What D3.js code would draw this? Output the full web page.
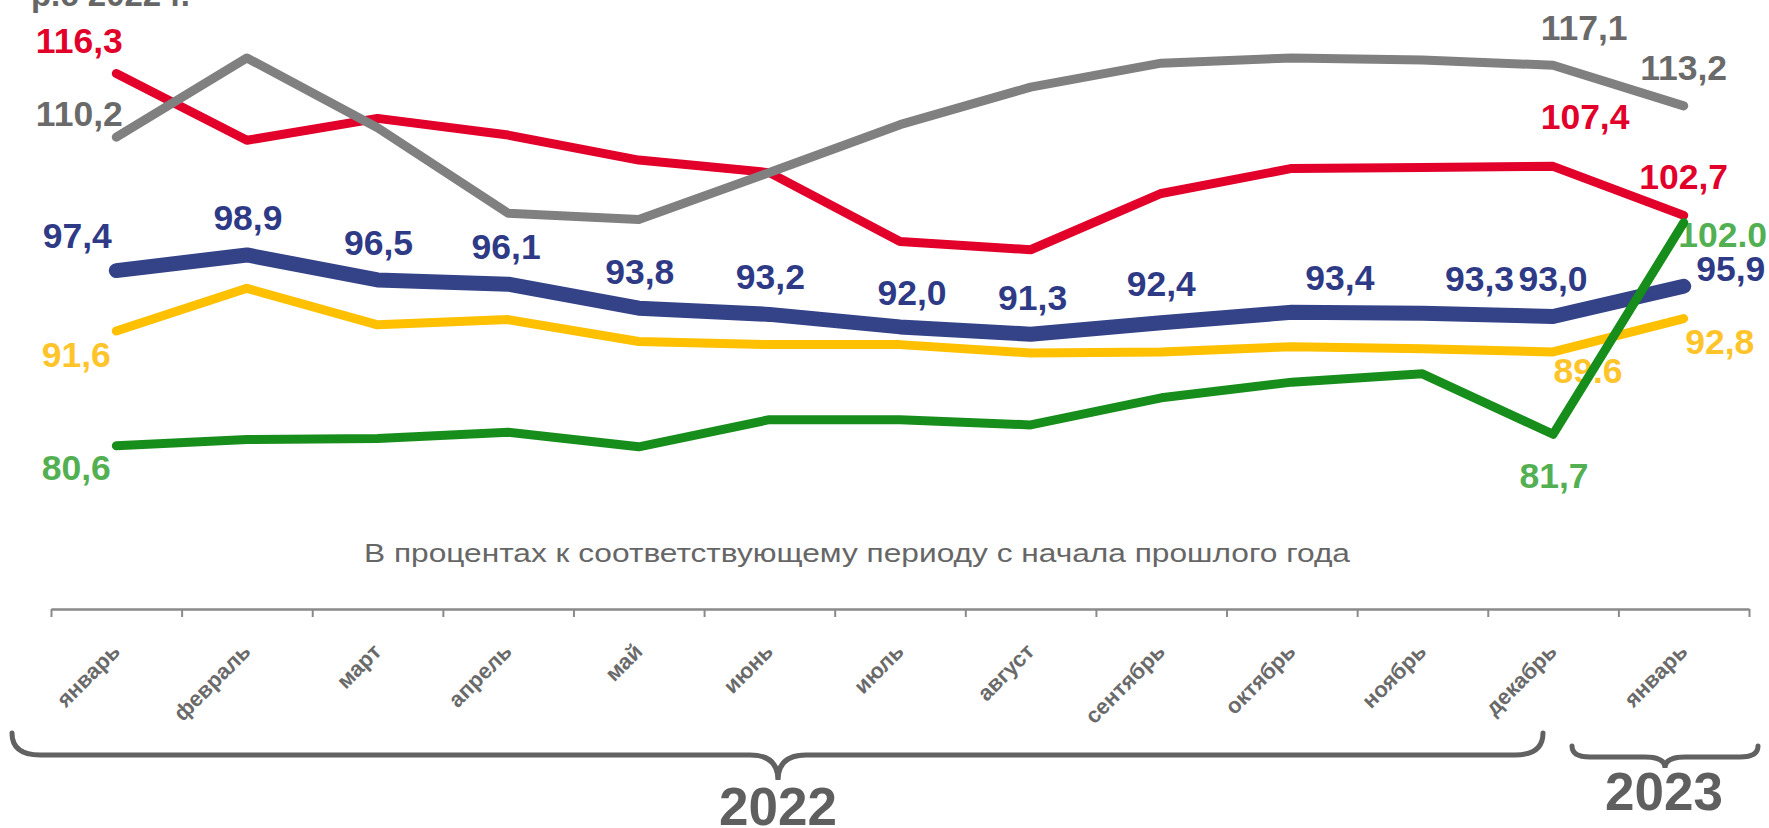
<!DOCTYPE html>
<html><head><meta charset="utf-8">
<script src="https://cdn.jsdelivr.net/npm/d3@7"></script>
<style>html,body{margin:0;padding:0;background:#fff;overflow:hidden}</style>
</head><body><svg id="c" width="1769" height="828"></svg>
<script>
// ---- data ----
const months = ["январь","февраль","март","апрель","май","июнь","июль","август","сентябрь","октябрь","ноябрь","декабрь","январь"];
const years = ["2022","2023"];
const redValues    = [116.3, 109.9, 112.0, 110.4, 108.0, 106.8, 100.2, 99.4, 104.8, 107.2, 107.3, 107.4, 102.7];
const grayValues   = [110.2, 117.8, 111.1, 102.9, 102.3, 106.8, 111.4, 115.0, 117.3, 117.8, 117.6, 117.1, 113.2];
const blueValues   = [97.4, 98.9, 96.5, 96.1, 93.8, 93.2, 92.0, 91.3, 92.4, 93.4, 93.3, 93.0, 95.9];
const yellowValues = [91.6, 95.7, 92.2, 92.7, 90.6, 90.3, 90.3, 89.5, 89.6, 90.1, 89.9, 89.6, 92.8];
const greenValues  = [80.6, 81.2, 81.3, 81.9, 80.5, 83.1, 83.1, 82.6, 85.2, 86.7, 87.5, 81.7, 102.0];
const subtitle = "В процентах к соответствующему периоду с начала прошлого года";
const topTitle = "р.с 2022 г.";

// ---- styles / layout ----
const series = [
  {key:"red",    values:redValues,    color:"#E2002B", label:"#E2002B", w:9},
  {key:"gray",   values:grayValues,   color:"#808080", label:"#6A6A6A", w:9},
  {key:"yellow", values:yellowValues, color:"#FFC000", label:"#FFC42A", w:9},
  {key:"blue",   values:blueValues,   color:"#344387", label:"#2E3A86", w:15},
  {key:"green",  values:greenValues,  color:"#178E1B", label:"#52B052", w:9}
];
const labelSpots = [
  {s:"red",i:0,dx:-37,dy:-33},{s:"red",i:11,dx:32,dy:-50},{s:"red",i:12,dx:0,dy:-39},
  {s:"gray",i:0,dx:-37,dy:-24},{s:"gray",i:11,dx:31,dy:-38},{s:"gray",i:12,dx:0,dy:-39},
  {s:"blue",i:0,dx:-39,dy:-35},{s:"blue",i:1,dx:1,dy:-38},{s:"blue",i:2,dx:1,dy:-38},
  {s:"blue",i:3,dx:-2,dy:-38},{s:"blue",i:4,dx:1,dy:-37},{s:"blue",i:5,dx:1,dy:-38},
  {s:"blue",i:6,dx:12,dy:-35},{s:"blue",i:7,dx:2,dy:-37},{s:"blue",i:8,dx:0,dy:-40},
  {s:"blue",i:9,dx:48,dy:-35},{s:"blue",i:10,dx:57,dy:-35},{s:"blue",i:11,dx:0,dy:-38},
  {s:"blue",i:12,dx:47,dy:-18},
  {s:"yellow",i:0,dx:-40,dy:23},{s:"yellow",i:11,dx:35,dy:18,sep:"."},{s:"yellow",i:12,dx:36,dy:23},
  {s:"green",i:0,dx:-40,dy:21},{s:"green",i:11,dx:1,dy:41},{s:"green",i:12,dx:39,dy:12,sep:"."}
];

const svg = d3.select("#c");
const font = "'Liberation Sans', Arial, sans-serif";
const x = d3.scaleLinear().domain([0, months.length]).range([51, 1749]);
const y = d3.scaleLinear().domain([80, 120]).range([452, 35]);
const px = i => x(i + 0.5);

// top partial title
svg.append("text").attr("x", 190).attr("y", 6).attr("text-anchor","end")
  .attr("font-family", font).attr("font-weight","bold").attr("font-size",33)
  .attr("fill","#666").text(topTitle);

// subtitle
svg.append("text").attr("x", 857).attr("y", 562).attr("text-anchor","middle")
  .attr("font-family", font).attr("font-size",25).attr("fill","#666")
  .attr("textLength", 986).attr("lengthAdjust","spacingAndGlyphs").text(subtitle);

// axis
const ax = svg.append("g").attr("transform","translate(0,609)")
  .call(d3.axisBottom(x).tickValues(d3.range(months.length + 1)).tickFormat("").tickSizeInner(8).tickSizeOuter(0));
ax.select(".domain").attr("stroke","#8a8a8a").attr("stroke-width",2.5);
ax.selectAll(".tick line").attr("stroke","#8a8a8a").attr("stroke-width",2);

// month labels
svg.append("g").selectAll("text").data(months).join("text")
  .attr("transform",(d,i)=>`translate(${px(i)+5},653) rotate(-45)`)
  .attr("text-anchor","end").attr("font-family",font).attr("font-weight","bold")
  .attr("font-size",22).attr("fill","#6a6a6a").text(d=>d);

// braces
const braceColor = "#616161";
svg.append("path").attr("fill","none").attr("stroke",braceColor).attr("stroke-width",5).attr("stroke-linecap","round")
  .attr("d","M12,733 Q12,755 40,755 L750,755 Q778,755 778,780 Q778,755 806,755 L1515,755 Q1543,755 1543,733");
svg.append("path").attr("fill","none").attr("stroke",braceColor).attr("stroke-width",5).attr("stroke-linecap","round")
  .attr("d","M1572,746 Q1572,757 1590,757 L1645,757 Q1665,757 1665,768 Q1665,757 1685,757 L1740,757 Q1758,757 1758,746");
svg.append("text").attr("x",778).attr("y",825).attr("text-anchor","middle").attr("font-family",font)
  .attr("font-weight","bold").attr("font-size",53).attr("fill","#5f5f5f").text(years[0]);
svg.append("text").attr("x",1664).attr("y",810).attr("text-anchor","middle").attr("font-family",font)
  .attr("font-weight","bold").attr("font-size",53).attr("fill","#5f5f5f").text(years[1]);

// data labels
const byKey = Object.fromEntries(series.map(s=>[s.key,s]));
const fmt = d3.format(".1f");
const fs = 35.5;
svg.append("g").selectAll("text").data(labelSpots).join("text")
  .attr("x", d => px(d.i) + d.dx)
  .attr("y", d => y(byKey[d.s].values[d.i]) + d.dy + 0.36*fs)
  .attr("text-anchor","middle").attr("font-family",font).attr("font-weight","bold")
  .attr("font-size",fs).attr("fill", d => byKey[d.s].label)
  .text(d => fmt(byKey[d.s].values[d.i]).replace(".", d.sep || ","));

// lines
const line = d3.line().x((d,i)=>px(i)).y(d=>y(d));
svg.append("g").selectAll("path").data(series).join("path")
  .attr("d", d => line(d.values)).attr("fill","none")
  .attr("stroke", d=>d.color).attr("stroke-width", d=>d.w)
  .attr("stroke-linejoin","round").attr("stroke-linecap","round");
</script></body></html>
